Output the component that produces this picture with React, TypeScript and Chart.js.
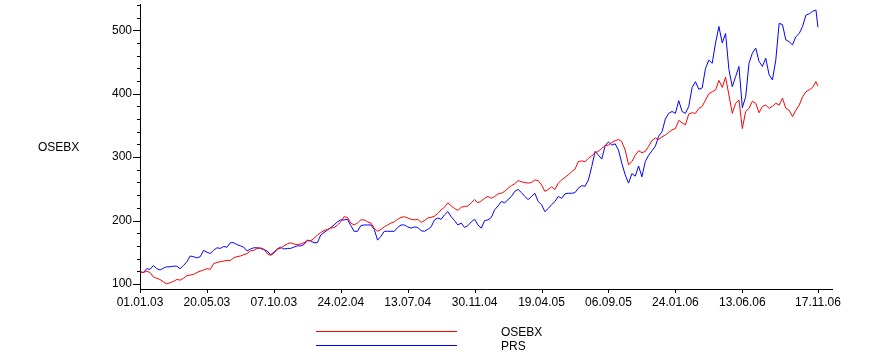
import React, { useEffect, useRef } from "react";
import { Chart, registerables } from "chart.js";

Chart.register(...registerables);

// Trading-day index of each sample
const tradingDays: number[] = [
  0, 5, 10, 15, 20, 25, 30, 35, 40, 45, 50, 55, 60, 65, 70, 75, 80, 85, 90, 95,
  100, 105, 110, 115, 120, 125, 130, 135, 140, 145, 150, 155, 160, 165, 170, 175, 180, 185, 190, 195,
  200, 205, 210, 215, 220, 225, 230, 235, 240, 245, 250, 255, 260, 265, 270, 275, 280, 285, 290, 295,
  300, 305, 310, 315, 320, 325, 330, 335, 340, 345, 350, 355, 360, 365, 370, 375, 380, 385, 390, 395,
  400, 405, 410, 415, 420, 425, 430, 435, 440, 445, 450, 455, 460, 465, 470, 475, 480, 485, 490, 495,
  500, 505, 510, 515, 520, 525, 530, 535, 540, 545, 550, 555, 560, 565, 570, 575, 580, 585, 590, 595,
  600, 605, 610, 615, 620, 625, 630, 635, 640, 645, 650, 655, 660, 665, 670, 675, 680, 685, 690, 695,
  700, 705, 710, 715, 720, 725, 730, 735, 740, 745, 750, 755, 760, 765, 770, 775, 780, 785, 790, 795,
  800, 805, 810, 815, 820, 825, 830, 835, 840, 845, 850, 855, 860, 865, 870, 875, 880, 885, 890, 895,
  900, 905, 910, 915, 920, 925, 930, 935, 940, 945, 950, 955, 960, 965, 970, 975, 980, 985, 990, 995,
  1000, 1005, 1010, 1013,
];

const osebx: number[] = [
  119, 118, 120, 118, 111, 109, 107, 103, 100, 102, 104, 107, 106, 109, 113, 114, 115, 118, 120, 122,
  124, 123, 132, 134, 135, 136, 137, 137, 141, 143, 144, 146, 148, 152, 153, 156, 157, 155, 148, 145,
  148, 155, 156, 160, 163, 165, 163, 162, 163, 165, 168, 168, 172, 177, 181, 184, 186, 188, 189, 193,
  198, 206, 205, 196, 193, 196, 201, 201, 198, 196, 188, 183, 186, 190, 193, 196, 198, 202, 205, 206,
  204, 202, 201, 202, 197, 200, 204, 205, 207, 211, 217, 221, 228, 223, 219, 216, 221, 222, 223, 228,
  233, 228, 231, 235, 238, 235, 238, 242, 243, 246, 251, 255, 258, 263, 261, 260, 259, 260, 264, 263,
  256, 246, 249, 253, 249, 259, 264, 268, 272, 277, 281, 293, 294, 293, 298, 302, 307, 309, 314, 318,
  319, 323, 326, 328, 324, 311, 288, 293, 303, 310, 307, 309, 317, 326, 330, 328, 332, 335, 339, 343,
  345, 358, 354, 351, 368, 370, 369, 377, 380, 390, 400, 403, 406, 421, 410, 426, 398, 369, 385, 390,
  345, 372, 377, 388, 385, 370, 380, 382, 377, 380, 385, 382, 393, 377, 374, 364, 374, 382, 395, 403,
  406, 410, 419, 412,
];

const prs: number[] = [
  119, 118, 124, 123, 129, 124, 122, 125, 127, 127, 128, 128, 124, 129, 135, 144, 143, 141, 143, 153,
  150, 148, 153, 157, 156, 159, 158, 165, 165, 162, 160, 158, 152, 155, 157, 157, 156, 154, 152, 146,
  150, 155, 158, 155, 156, 156, 158, 160, 160, 162, 169, 168, 165, 165, 177, 181, 185, 189, 193, 198,
  201, 201, 202, 192, 183, 183, 192, 193, 193, 193, 186, 169, 175, 183, 183, 183, 183, 189, 193, 193,
  190, 188, 190, 189, 184, 183, 186, 190, 201, 204, 202, 209, 214, 206, 200, 193, 196, 189, 192, 198,
  202, 193, 188, 200, 201, 205, 217, 223, 230, 228, 233, 238, 246, 249, 244, 238, 233, 238, 243, 230,
  225, 214, 219, 225, 230, 238, 235, 242, 243, 243, 244, 251, 255, 254, 264, 285, 309, 303, 297, 318,
  324, 319, 321, 311, 290, 272, 259, 274, 270, 286, 269, 293, 303, 310, 317, 333, 340, 360, 369, 372,
  369, 389, 372, 369, 380, 410, 419, 407, 409, 440, 453, 448, 480, 506, 480, 495, 438, 411, 427, 443,
  378, 395, 448, 464, 472, 451, 443, 456, 430, 422, 453, 511, 509, 485, 482, 477, 490, 495, 506, 524,
  526, 530, 532, 505,
];

const xTickDays: number[] = [0, 100, 200, 300, 400, 500, 600, 700, 800, 900, 1013];
const xTickLabels: string[] = [
  "01.01.03", "20.05.03", "07.10.03", "24.02.04", "13.07.04", "30.11.04",
  "19.04.05", "06.09.05", "24.01.06", "13.06.06", "17.11.06",
];
const yMajorTicks: number[] = [100, 200, 300, 400, 500];
const yMinorTicks: number[] = [
  120, 140, 160, 180, 220, 240, 260, 280, 320, 340, 360, 380, 420, 440, 460, 480, 520, 540,
];

const seriesNames: string[] = ["OSEBX", "PRS"];
const seriesColors: string[] = ["#ff0000", "#0000ff"];
const yTitle = "OSEBX";

const FONT = '12px "Liberation Sans", Arial, sans-serif';

const decorPlugin = {
  id: "decor",
  afterDraw(chart: any) {
    const ctx = chart.ctx as CanvasRenderingContext2D;
    const xs = chart.scales.x;
    const ys = chart.scales.y;
    const area = chart.chartArea;
    ctx.save();
    ctx.strokeStyle = "#000";
    ctx.lineWidth = 1;
    ctx.beginPath();
    for (const v of yMajorTicks) {
      const y = Math.round(ys.getPixelForValue(v)) + 0.5;
      ctx.moveTo(area.left - 7, y);
      ctx.lineTo(area.left, y);
    }
    for (const v of yMinorTicks) {
      const y = Math.round(ys.getPixelForValue(v)) + 0.5;
      ctx.moveTo(area.left - 3, y);
      ctx.lineTo(area.left, y);
    }
    for (const d of xTickDays) {
      const x = Math.round(xs.getPixelForValue(d)) + 0.5;
      ctx.moveTo(x, area.bottom);
      ctx.lineTo(x, area.bottom + 4);
    }
    ctx.stroke();

    // y title
    ctx.fillStyle = "#000";
    ctx.font = FONT;
    ctx.textAlign = "left";
    ctx.textBaseline = "middle";
    ctx.fillText(yTitle, 38, (area.top + area.bottom) / 2 + 1);

    // legend
    const legendRows = [331.5, 345.5];
    seriesNames.forEach((name, i) => {
      ctx.strokeStyle = seriesColors[i];
      ctx.beginPath();
      ctx.moveTo(316, legendRows[i]);
      ctx.lineTo(457, legendRows[i]);
      ctx.stroke();
      ctx.fillStyle = "#000";
      ctx.fillText(name, 501, legendRows[i] + 1.5);
    });
    ctx.restore();
  },
};

export default function App() {
  const canvasRef = useRef<HTMLCanvasElement | null>(null);

  useEffect(() => {
    const canvas = canvasRef.current;
    if (!canvas) return;
    const chart = new Chart(canvas, {
      type: "line",
      data: {
        datasets: [
          {
            label: seriesNames[0],
            data: tradingDays.map((d, i) => ({ x: d, y: osebx[i] })),
            borderColor: seriesColors[0],
            borderWidth: 1,
            pointRadius: 0,
            tension: 0,
            fill: false,
          },
          {
            label: seriesNames[1],
            data: tradingDays.map((d, i) => ({ x: d, y: prs[i] })),
            borderColor: seriesColors[1],
            borderWidth: 1,
            pointRadius: 0,
            tension: 0,
            fill: false,
          },
        ],
      },
      options: {
        responsive: false,
        animation: false,
        maintainAspectRatio: false,
        layout: { padding: { left: 0, right: 49, top: 4, bottom: 0 } },
        plugins: {
          legend: { display: false },
          tooltip: { enabled: false },
          title: { display: false },
        },
        scales: {
          x: {
            type: "linear",
            min: 0,
            max: 1034,
            grid: { display: false, drawTicks: false },
            border: { display: true, color: "#000", width: 1 },
            afterBuildTicks: (scale: any) => {
              scale.ticks = xTickDays.map((v) => ({ value: v }));
            },
            afterFit: (scale: any) => {
              scale.height = 70;
              scale.paddingLeft = 0;
              scale.paddingRight = 0;
            },
            ticks: {
              autoSkip: false,
              maxRotation: 0,
              minRotation: 0,
              padding: 6,
              color: "#000",
              font: { family: '"Liberation Sans", Arial, sans-serif', size: 12 },
              callback: (_v: any, i: number) => xTickLabels[i],
            },
          },
          y: {
            type: "linear",
            min: 92,
            max: 541.5,
            grid: { display: false, drawTicks: false },
            border: { display: true, color: "#000", width: 1 },
            afterBuildTicks: (scale: any) => {
              scale.ticks = yMajorTicks.map((v) => ({ value: v }));
            },
            afterFit: (scale: any) => {
              scale.width = 140;
              scale.paddingTop = 0;
              scale.paddingBottom = 0;
            },
            ticks: {
              padding: 8,
              color: "#000",
              font: { family: '"Liberation Sans", Arial, sans-serif', size: 12 },
              callback: (v: any) => String(v),
            },
          },
        },
      },
      plugins: [decorPlugin],
    });
    return () => chart.destroy();
  }, []);

  return (
    <div style={{ position: "fixed", left: 0, top: 0, width: 881, height: 359, background: "#fff" }}>
      <canvas ref={canvasRef} width={881} height={359} style={{ width: 881, height: 359, display: "block" }} />
    </div>
  );
}
